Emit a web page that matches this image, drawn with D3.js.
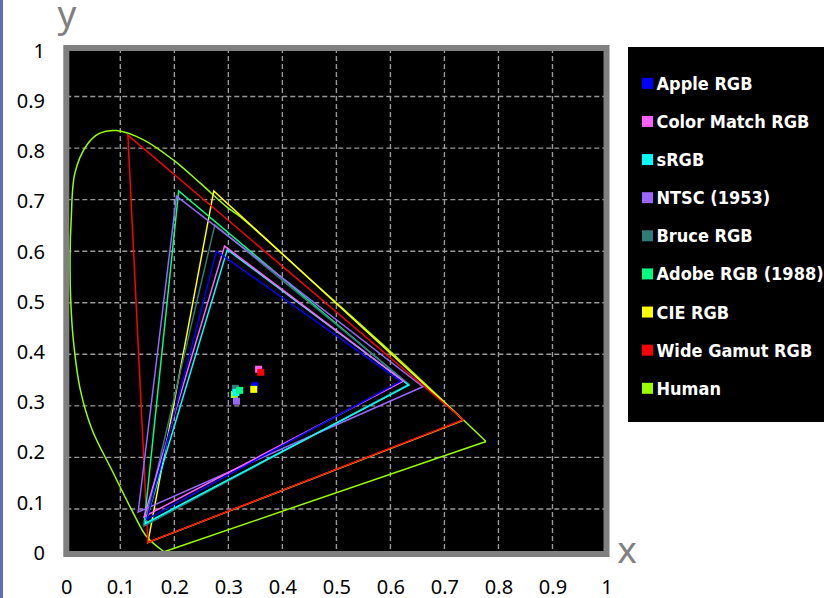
<!DOCTYPE html>
<html>
<head>
<meta charset="utf-8">
<script src="https://cdn.jsdelivr.net/npm/d3@7"></script>
<style>
  html, body { margin: 0; padding: 0; background: #fff; }
  svg { display: block; }
</style>
</head>
<body>
<script>
// canvas size
var w = 824;
var h = 598;

// gamut names and colours (legend order)
var gamutNames = ["Apple RGB", "Color Match RGB", "sRGB", "NTSC (1953)", "Bruce RGB",
                  "Adobe RGB (1988)", "CIE RGB", "Wide Gamut RGB", "Human"];
var gamutColors = ["#0000ff", "#ff5fff", "#00ffff", "#9966ff", "#2e7b79",
                   "#00ff80", "#ffff00", "#ff0000", "#99ff00"];

// primaries [x, y]: R, G, B
var appleRGB      = [[0.619, 0.348], [0.278, 0.600], [0.149, 0.080]];
var colorMatchRGB = [[0.624, 0.348], [0.293, 0.610], [0.144, 0.085]];
var sRGB          = [[0.634, 0.340], [0.298, 0.603], [0.146, 0.072]];
var ntscRGB       = [[0.660, 0.337], [0.204, 0.707], [0.133, 0.094]];
var bruceRGB      = [[0.634, 0.342], [0.275, 0.651], [0.144, 0.067]];
var adobeRGB      = [[0.634, 0.341], [0.208, 0.717], [0.144, 0.070]];
var cieRGB        = [[0.735, 0.272], [0.273, 0.717], [0.151, 0.035]];
var wideGamutRGB  = [[0.735, 0.273], [0.114, 0.825], [0.151, 0.035]];

// human spectral locus (from blue end round to red end)
var humanLocus = [
  [0.181, 0.017], [0.149, 0.046], [0.124, 0.092], [0.084, 0.176], [0.048, 0.253],
  [0.026, 0.331], [0.013, 0.428], [0.008, 0.510], [0.007, 0.590], [0.009, 0.660],
  [0.016, 0.752], [0.038, 0.806], [0.062, 0.829], [0.093, 0.834], [0.143, 0.816],
  [0.198, 0.777], [0.248, 0.732], [0.297, 0.686], [0.322, 0.667], [0.470, 0.528],
  [0.618, 0.388], [0.777, 0.231]
];

// white points [x, y], in legend order
var whitePoints = [[0.349, 0.339], [0.356, 0.371], [0.314, 0.326], [0.315, 0.309],
                   [0.313, 0.334], [0.321, 0.330], [0.347, 0.332], [0.360, 0.365],
                   [0.311, 0.322]];

var tickValues = [0, 0.1, 0.2, 0.3, 0.4, 0.5, 0.6, 0.7, 0.8, 0.9, 1];
var tickLabels = ["0", "0.1", "0.2", "0.3", "0.4", "0.5", "0.6", "0.7", "0.8", "0.9", "1"];
var gridValues = [0.1, 0.2, 0.3, 0.4, 0.5, 0.6, 0.7, 0.8, 0.9];

var triangles = [appleRGB, colorMatchRGB, sRGB, ntscRGB, bruceRGB, adobeRGB, cieRGB, wideGamutRGB];

var svg = d3.select("body").append("svg")
    .attr("width", w)
    .attr("height", h);

// blue strip at the left edge
svg.append("rect")
    .attr("x", 0).attr("y", 0)
    .attr("width", 3).attr("height", h)
    .attr("fill", "#5a6fb8");

// scales
var x = d3.scaleLinear().domain([0, 1]).range([66.3, 606.5]);
var y = d3.scaleLinear().domain([0, 1]).range([560.5, 45]);
var yLabel = d3.scaleLinear().domain([0, 1]).range([552, 50]); // tick labels sit evenly on the frame

var plotTop = 48, plotBottom = 554;

// plot background
svg.append("rect")
    .attr("x", x(0)).attr("y", plotTop)
    .attr("width", x(1) - x(0)).attr("height", plotBottom - plotTop)
    .attr("fill", "#000");

// dashed grid
var grid = svg.append("g");
grid.selectAll("line.vx")
    .data(gridValues)
    .enter().append("line")
    .attr("x1", function(d) { return x(d); })
    .attr("x2", function(d) { return x(d); })
    .attr("y1", plotTop).attr("y2", plotBottom);
grid.selectAll("line.hy")
    .data(gridValues)
    .enter().append("line")
    .attr("class", "hy")
    .attr("x1", x(0)).attr("x2", x(1))
    .attr("y1", function(d) { return y(d); })
    .attr("y2", function(d) { return y(d); });
grid.selectAll("line")
    .attr("stroke", "#9a9a9a")
    .attr("stroke-width", 1.4)
    .attr("stroke-dasharray", "5,3");

// clip to plot
svg.append("clipPath").attr("id", "clip")
  .append("rect")
    .attr("x", x(0)).attr("y", plotTop)
    .attr("width", x(1) - x(0)).attr("height", plotBottom - plotTop);

var marks = svg.append("g").attr("clip-path", "url(#clip)");

var lineLinear = d3.line()
    .x(function(d) { return x(d[0]); })
    .y(function(d) { return y(d[1]); });
var lineSmooth = d3.line()
    .x(function(d) { return x(d[0]); })
    .y(function(d) { return y(d[1]); })
    .curve(d3.curveCatmullRom.alpha(0.5));

// human locus + line of purples
marks.append("path")
    .attr("d", lineSmooth(humanLocus))
    .attr("fill", "none")
    .attr("stroke", gamutColors[8])
    .attr("stroke-width", 1.5);
marks.append("path")
    .attr("d", lineLinear([humanLocus[humanLocus.length - 1], humanLocus[0]]))
    .attr("fill", "none")
    .attr("stroke", gamutColors[8])
    .attr("stroke-width", 1.5);

// gamut triangles, drawn back to front
var drawOrder = [6, 7, 5, 4, 3, 2, 1, 0];
drawOrder.forEach(function(i) {
    marks.append("path")
        .attr("d", lineLinear(triangles[i]) + "Z")
        .attr("fill", "none")
        .attr("stroke", gamutColors[i])
        .attr("stroke-width", 1.5)
        .attr("stroke-linejoin", "miter");
});

// white points
var wpOrder = [8, 4, 2, 5, 3, 0, 6, 1, 7];
marks.selectAll("rect.wp")
    .data(wpOrder)
    .enter().append("rect")
    .attr("x", function(i) { return x(whitePoints[i][0]) - 3.5; })
    .attr("y", function(i) { return y(whitePoints[i][1]) - 3.5; })
    .attr("width", 7).attr("height", 7)
    .attr("fill", function(i) { return gamutColors[i]; });

// frame
svg.append("rect")
    .attr("x", x(0)).attr("y", plotTop)
    .attr("width", x(1) - x(0)).attr("height", plotBottom - plotTop)
    .attr("fill", "none")
    .attr("stroke", "#808080")
    .attr("stroke-width", 6);

// axes (labels only)
var xAxis = svg.append("g")
    .attr("transform", "translate(0,594)")
    .call(d3.axisBottom(x).tickValues(tickValues)
        .tickFormat(function(d, i) { return tickLabels[i]; })
        .tickSize(0).tickPadding(0));
xAxis.select(".domain").remove();
xAxis.selectAll("text").attr("y", 0).attr("dy", null);

var yAxis = svg.append("g")
    .attr("transform", "translate(45,0)")
    .call(d3.axisLeft(yLabel).tickValues(tickValues)
        .tickFormat(function(d, i) { return tickLabels[i]; })
        .tickSize(0).tickPadding(0));
yAxis.select(".domain").remove();
yAxis.selectAll("text").attr("dy", "0.36em");

svg.selectAll(".tick text")
    .attr("font-family", "'Noto Sans', 'Open Sans', sans-serif")
    .attr("font-size", 20)
    .attr("fill", "#000");

// axis titles
svg.append("text")
    .attr("x", 67).attr("y", 27)
    .attr("text-anchor", "middle")
    .attr("font-family", "'Noto Sans', sans-serif")
    .attr("font-size", 37)
    .attr("fill", "#808080")
    .text("y");
svg.append("text")
    .attr("x", 627).attr("y", 563)
    .attr("text-anchor", "middle")
    .attr("font-family", "'Noto Sans', sans-serif")
    .attr("font-size", 37)
    .attr("fill", "#808080")
    .text("x");

// legend
var legend = svg.append("g");
legend.append("rect")
    .attr("x", 628).attr("y", 47)
    .attr("width", 200).attr("height", 375)
    .attr("fill", "#000");

var rowY = d3.scaleLinear().domain([0, 8]).range([83.3, 388.3]);
var rows = legend.selectAll("g.row")
    .data(gamutNames)
    .enter().append("g")
    .attr("transform", function(d, i) { return "translate(0," + rowY(i) + ")"; });
rows.append("rect")
    .attr("x", 642).attr("y", -5.5)
    .attr("width", 11).attr("height", 11)
    .attr("fill", function(d, i) { return gamutColors[i]; });
rows.append("text")
    .attr("x", 656.5).attr("y", 6.5)
    .attr("font-family", "'DejaVu Sans Condensed', 'DejaVu Sans', sans-serif")
    .attr("font-stretch", "condensed")
    .attr("font-weight", "bold")
    .attr("font-size", 18)
    .attr("fill", "#fff")
    .text(function(d) { return d; });
</script>
</body>
</html>
